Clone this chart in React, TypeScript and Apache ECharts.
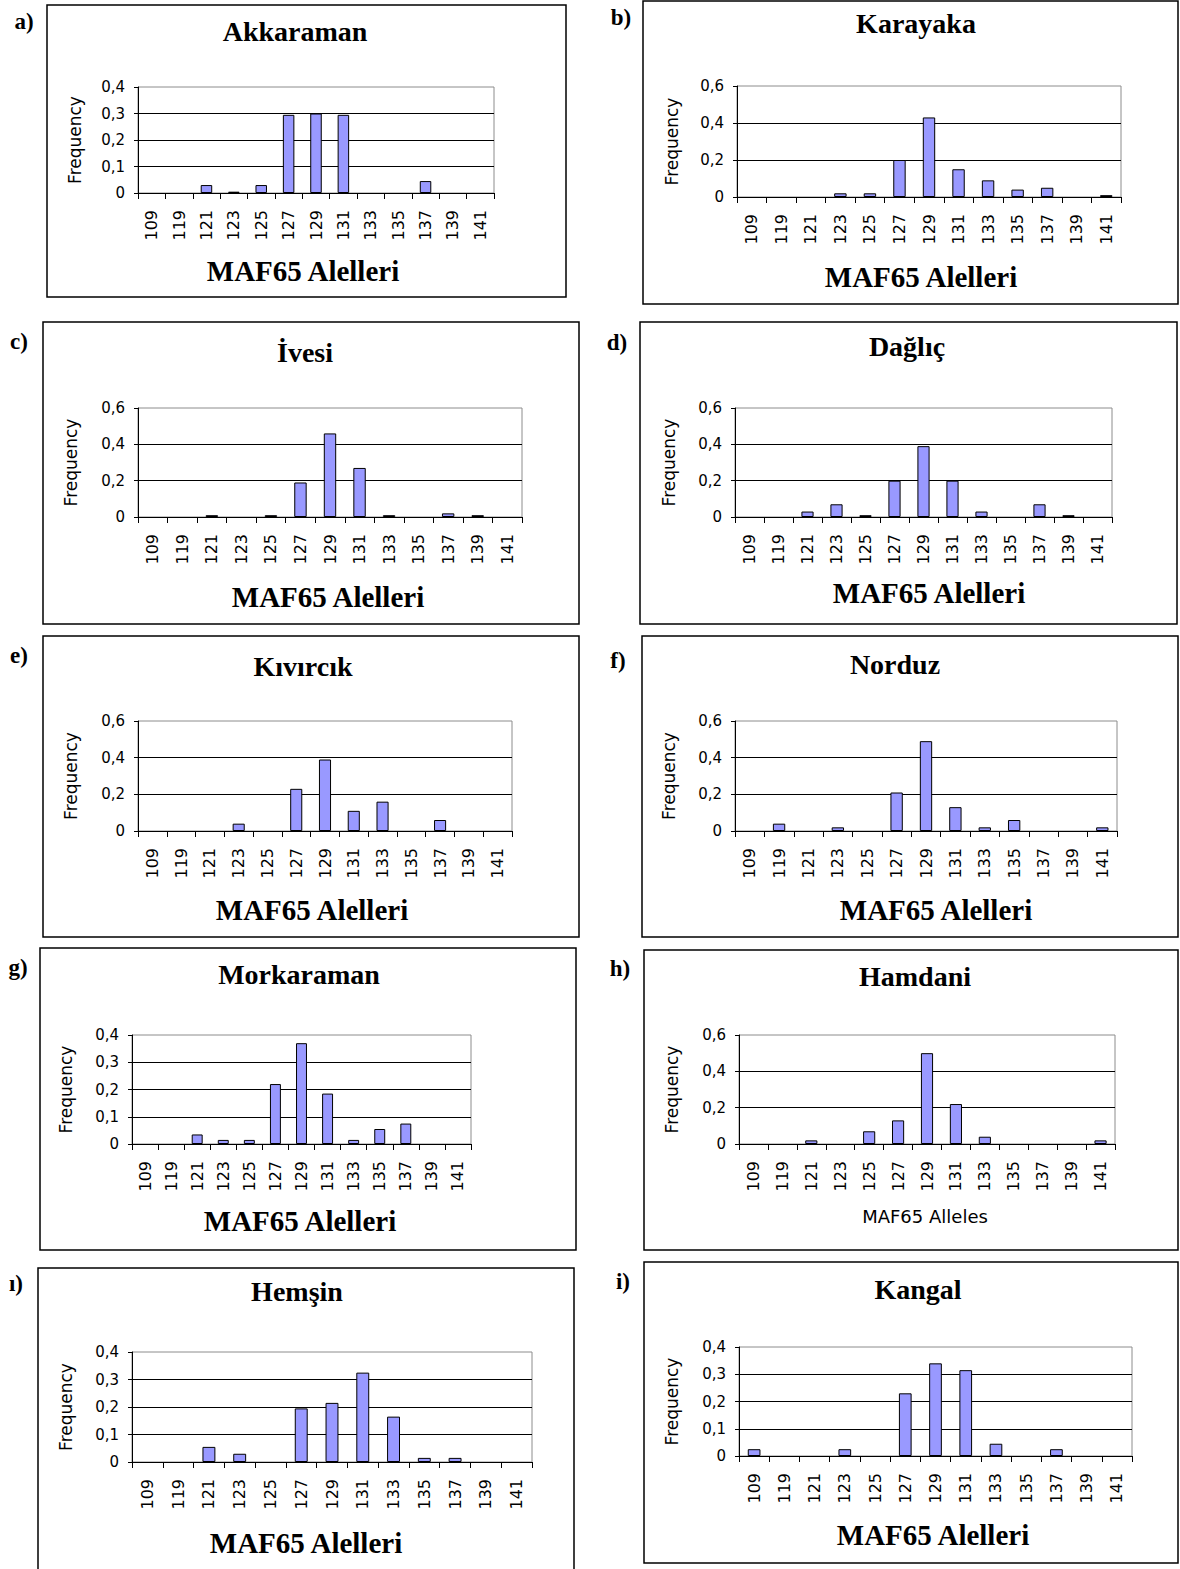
import React, { useEffect, useRef } from "react";
import * as echarts from "echarts";

const categories = ["109", "119", "121", "123", "125", "127", "129", "131", "133", "135", "137", "139", "141"];

const akkaraman = [0, 0, 0.03, 0.005, 0.03, 0.295, 0.3, 0.295, 0, 0, 0.045, 0, 0];
const karayaka = [0, 0, 0, 0.02, 0.02, 0.2, 0.43, 0.15, 0.09, 0.04, 0.05, 0, 0.01];
const ivesi = [0, 0, 0.01, 0, 0.01, 0.19, 0.46, 0.27, 0.01, 0, 0.02, 0.01, 0];
const daglic = [0, 0, 0.03, 0.07, 0.01, 0.2, 0.39, 0.2, 0.03, 0, 0.07, 0.01, 0];
const kivircik = [0, 0, 0, 0.04, 0, 0.23, 0.39, 0.11, 0.16, 0, 0.06, 0, 0];
const norduz = [0, 0.04, 0, 0.02, 0, 0.21, 0.49, 0.13, 0.02, 0.06, 0, 0, 0.02];
const morkaraman = [0, 0, 0.035, 0.015, 0.015, 0.22, 0.37, 0.185, 0.015, 0.055, 0.075, 0, 0];
const hamdani = [0, 0, 0.02, 0, 0.07, 0.13, 0.5, 0.22, 0.04, 0, 0, 0, 0.02];
const hemsin = [0, 0, 0.055, 0.03, 0, 0.195, 0.215, 0.325, 0.165, 0.015, 0.015, 0, 0];
const kangal = [0.025, 0, 0, 0.025, 0, 0.23, 0.34, 0.315, 0.045, 0, 0.025, 0, 0];

const panelTitles = ["Akkaraman", "Karayaka", "İvesi", "Dağlıç", "Kıvırcık", "Norduz", "Morkaraman", "Hamdani", "Hemşin", "Kangal"];
const panelLetters = ["a)", "b)", "c)", "d)", "e)", "f)", "g)", "h)", "ı)", "i)"];
const panelValues = [akkaraman, karayaka, ivesi, daglic, kivircik, norduz, morkaraman, hamdani, hemsin, kangal];
const axisMax = [0.4, 0.6, 0.6, 0.6, 0.6, 0.6, 0.4, 0.6, 0.4, 0.4];
const axisStep = [0.1, 0.2, 0.2, 0.2, 0.2, 0.2, 0.1, 0.2, 0.1, 0.1];
const xAxisTitles = ["MAF65 Alelleri", "MAF65 Alelleri", "MAF65 Alelleri", "MAF65 Alelleri", "MAF65 Alelleri", "MAF65 Alelleri", "MAF65 Alelleri", "MAF65 Alleles", "MAF65 Alelleri", "MAF65 Alelleri"];
const yAxisTitle = "Frequency";

// layout: box [x1,y1,x2,y2], plot [l,t,r,b], title [cx,cy], axis title [cx,cy], letter [cx,cy], frequency center x
const layout = [
  { box: [47, 5, 566, 297], plot: [138, 87, 494, 193], title: [295, 31], xt: [303, 271], letter: [24, 21], fq: 74 },
  { box: [643, 1, 1178, 304], plot: [737, 86, 1121, 197], title: [916, 23], xt: [921, 277], letter: [621, 17], fq: 671 },
  { box: [43, 322, 579, 624], plot: [138, 408, 522, 517], title: [305, 352], xt: [328, 597], letter: [19, 341], fq: 70 },
  { box: [640, 322, 1177, 624], plot: [735, 408, 1112, 517], title: [907, 346], xt: [929, 593], letter: [617, 342], fq: 668 },
  { box: [43, 636, 579, 937], plot: [138, 721, 512, 831], title: [303, 666], xt: [312, 910], letter: [19, 655], fq: 70 },
  { box: [642, 636, 1178, 937], plot: [735, 721, 1117, 831], title: [895, 664], xt: [936, 910], letter: [618, 660], fq: 668 },
  { box: [40, 948, 576, 1250], plot: [132, 1035, 471, 1144], title: [299, 974], xt: [300, 1221], letter: [18, 967], fq: 65 },
  { box: [644, 950, 1178, 1250], plot: [739, 1035, 1115, 1144], title: [915, 976], xt: [925, 1216], letter: [620, 968], fq: 671 },
  { box: [38, 1268, 574, 1575], plot: [132, 1352, 532, 1462], title: [297, 1291], xt: [306, 1543], letter: [16, 1283], fq: 65 },
  { box: [644, 1262, 1178, 1563], plot: [739, 1347, 1132, 1456], title: [918, 1289], xt: [933, 1535], letter: [623, 1281], fq: 671 },
];

const SANS = "DejaVu Sans";
const SERIF = "Liberation Serif";

export default function App() {
  const ref = useRef<HTMLDivElement>(null);
  useEffect(() => {
    if (!ref.current) return;
    const chart = echarts.init(ref.current, undefined, { renderer: "svg" });
    const grid: any[] = [];
    const xAxis: any[] = [];
    const yAxis: any[] = [];
    const series: any[] = [];
    const graphic: any[] = [];
    panelValues.forEach((vals, i) => {
      const L = layout[i];
      const [l, t, r, b] = L.plot;
      grid.push({ left: l, top: t, width: r - l, height: b - t, show: true, borderColor: "#8c8c8c", borderWidth: 1, backgroundColor: "transparent" });
      xAxis.push({
        type: "category",
        gridIndex: i,
        data: categories,
        boundaryGap: true,
        axisLine: { show: true, lineStyle: { color: "#000", width: 1 } },
        axisTick: { show: true, length: 6, interval: 0, lineStyle: { color: "#000" } },
        axisLabel: { interval: 0, rotate: 90, fontFamily: SANS, fontSize: 16, color: "#000", margin: 17 },
      });
      yAxis.push({
        type: "value",
        gridIndex: i,
        min: 0,
        max: axisMax[i],
        interval: axisStep[i],
        axisLine: { show: true, lineStyle: { color: "#000", width: 1 } },
        axisTick: { show: true, length: 4, lineStyle: { color: "#000" } },
        axisLabel: {
          fontFamily: SANS,
          fontSize: 15,
          color: "#000",
          margin: 13,
          formatter: (v: number) => (v === 0 ? "0" : v.toFixed(1).replace(".", ",")),
        },
        splitLine: { show: true, showMaxLine: false, showMinLine: false, lineStyle: { color: "#000", width: 1 } },
        name: yAxisTitle,
        nameLocation: "middle",
        nameRotate: 90,
        nameGap: l - L.fq - 9,
        nameTextStyle: { fontFamily: SANS, fontSize: 17, color: "#000" },
      });
      series.push({
        type: "bar",
        xAxisIndex: i,
        yAxisIndex: i,
        data: vals.map((v) => (v === 0 ? null : v)),
        barWidth: "42%",
        itemStyle: { color: "#9999ff", borderColor: "#000", borderWidth: 1 },
      });
      const [bx1, by1, bx2, by2] = L.box;
      graphic.push({
        type: "rect",
        shape: { x: bx1, y: by1, width: bx2 - bx1, height: by2 - by1 },
        style: { fill: "none", stroke: "#000", lineWidth: 1.5 },
        silent: true,
      });
      graphic.push({
        type: "text",
        x: L.letter[0],
        y: L.letter[1],
        style: { text: panelLetters[i], font: `bold 23px '${SERIF}'`, fill: "#000", textAlign: "center", textVerticalAlign: "middle" },
      });
      graphic.push({
        type: "text",
        x: L.title[0],
        y: L.title[1],
        style: { text: panelTitles[i], font: `bold 28px '${SERIF}'`, fill: "#000", textAlign: "center", textVerticalAlign: "middle" },
      });
      const sansTitle = xAxisTitles[i] === "MAF65 Alleles";
      graphic.push({
        type: "text",
        x: L.xt[0],
        y: L.xt[1],
        style: {
          text: xAxisTitles[i],
          font: sansTitle ? `18px '${SANS}'` : `bold 29px '${SERIF}'`,
          fill: "#000",
          textAlign: "center",
          textVerticalAlign: "middle",
        },
      });
    });
    chart.setOption({
      animation: false,
      backgroundColor: "#fff",
      grid,
      xAxis,
      yAxis,
      series,
      graphic,
    });
    return () => chart.dispose();
  }, []);
  return <div ref={ref} style={{ position: "absolute", left: 0, top: 0, width: 1180, height: 1569 }} />;
}
